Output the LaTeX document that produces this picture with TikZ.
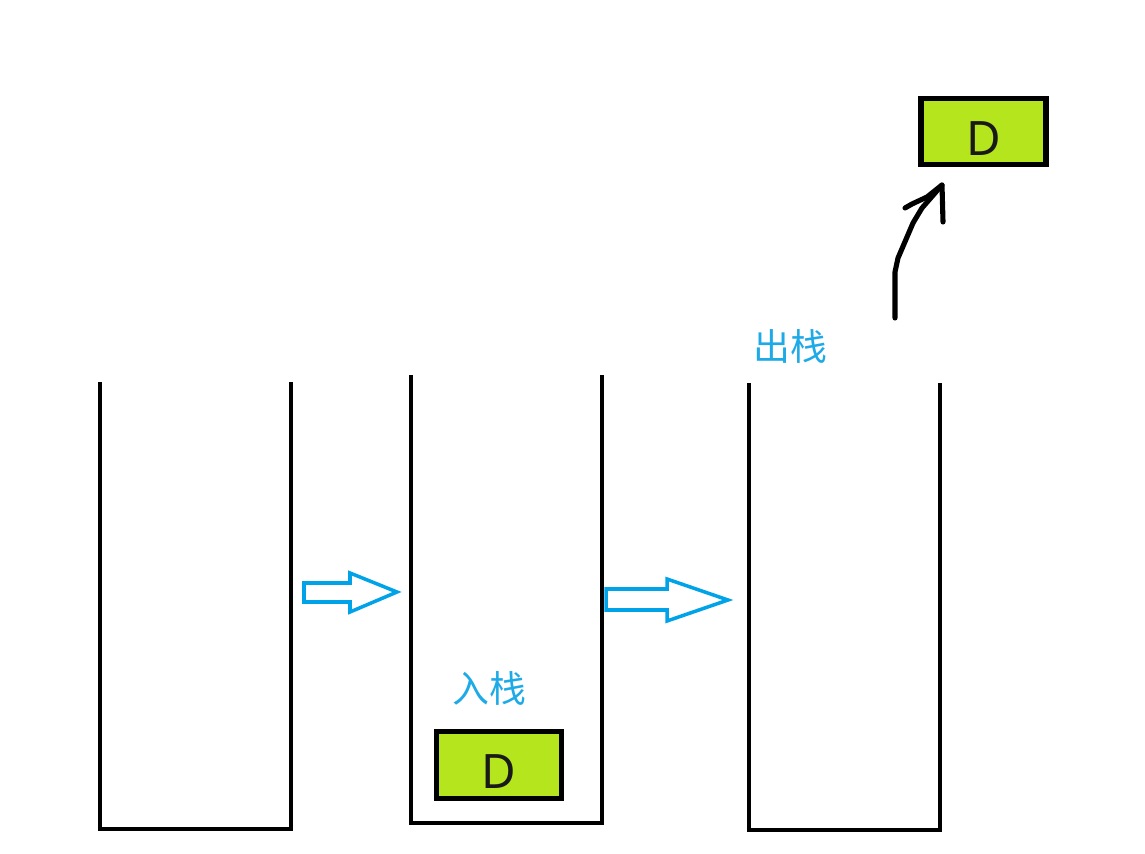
\documentclass[tikz,border=0pt]{standalone}
\usepackage{fontspec}
\setmainfont{Noto Sans}
\newfontfamily\cjk{Noto Sans CJK SC}
\usepackage{xcolor}
\usepackage{tikz}
\usetikzlibrary{positioning, calc}
\definecolor{stackblack}{RGB}{0, 0, 0}
\definecolor{limegreen}{RGB}{181, 230, 29}
\definecolor{arrowblue}{RGB}{0, 162, 232}
\definecolor{labelblue}{RGB}{30, 170, 230}
\newcommand{\elemtext}[1]{\raisebox{-0.48cm}[0pt][0pt]{#1}}
\tikzset{
    stackwall/.style={draw=stackblack, line width=2.8pt, line join=miter},
    elem/.style={rectangle, draw=stackblack, fill=limegreen, line width=3pt,
                 minimum width=2.5cm, minimum height=1.33cm, inner sep=0pt,
                 font=\fontsize{27}{30}\selectfont, text=black!90},
    oplabel/.style={font=\cjk\fontsize{21}{24}\selectfont, text=labelblue},
    hollowarr/.style={draw=arrowblue, line width=2pt, line join=miter},
    handarr/.style={draw=black, line width=2.9pt, line cap=round, line join=round},
}

\begin{document}
\begin{tikzpicture}[x=0.02cm, y=-0.02cm]
    \useasboundingbox (0,0) rectangle (1145,854);

    % Stacks
    \draw[stackwall] (100,382) |- (291,829) -- (291,382);
    \draw[stackwall] (411,375) |- (602,823) -- (602,375);
    \draw[stackwall] (749,383) |- (940,830) -- (940,383);

    % Push
    \node[elem] (pushed) at (499,765) {\elemtext{D}};
    \node[oplabel] (pushlabel) at (489,688) {入栈};

    % Pop
    \node[elem] (popped) at (983.5,131.5) {\elemtext{D}};
    \node[oplabel] (poplabel) at (790,346) {出栈};

    % Hollow arrows between stacks
    \draw[hollowarr] (304,583) -- (350,583) -- (350,573) -- (397,592)
        -- (350,612) -- (350,602) -- (304,602) -- cycle;
    \draw[hollowarr] (606,589) -- (667,589) -- (667,579) -- (728,600)
        -- (667,621) -- (667,610) -- (606,610) -- cycle;

    % Hand drawn arrow up to the popped element
    \draw[handarr] (895,318) -- (895,272) -- (898,258) -- (913,223)
        -- (922,208) -- (942,185);
    \draw[handarr] (905,208) -- (912,204) -- (927,197) -- (942,185) -- (943,222);
\end{tikzpicture}
\end{document}
